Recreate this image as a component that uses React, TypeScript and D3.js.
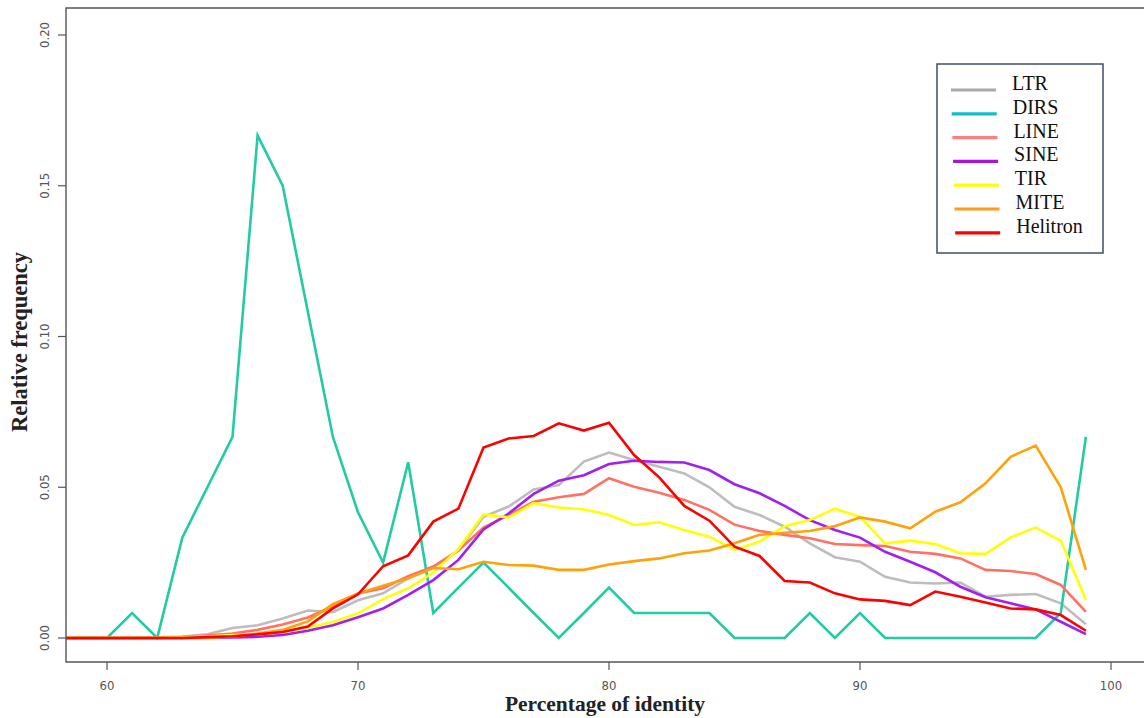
import React from "react";
import * as d3 from "d3";

const identity = d3.range(58, 100);

const LTR = [0, 0, 0, 0, 0.0002, 0.0005, 0.0012, 0.0033, 0.0042, 0.0065, 0.0091, 0.0086, 0.0125, 0.0148, 0.0198, 0.0235, 0.029, 0.0402, 0.0436, 0.0493, 0.0507, 0.0585, 0.0615, 0.059, 0.0568, 0.0546, 0.05, 0.0435, 0.0408, 0.0369, 0.0314, 0.0268, 0.0253, 0.0203, 0.0184, 0.0181, 0.0184, 0.0137, 0.0143, 0.0146, 0.0115, 0.0046];
const DIRS = [0, 0, 0, 0.0083, 0, 0.0333, 0.05, 0.0667, 0.1667, 0.15, 0.1083, 0.0667, 0.0417, 0.025, 0.0583, 0.0083, 0.0167, 0.025, 0.0167, 0.0083, 0, 0.0083, 0.0167, 0.0083, 0.0083, 0.0083, 0.0083, 0, 0, 0, 0.0083, 0, 0.0083, 0, 0, 0, 0, 0, 0, 0, 0.0083, 0.0667];
const LINE = [0, 0, 0, 0, 0, 0.0003, 0.0008, 0.0015, 0.0027, 0.0045, 0.0068, 0.0105, 0.0148, 0.0165, 0.0205, 0.0237, 0.029, 0.0366, 0.0408, 0.0452, 0.0467, 0.0478, 0.053, 0.0502, 0.0482, 0.0458, 0.0425, 0.0376, 0.0355, 0.0342, 0.0331, 0.0312, 0.0308, 0.0305, 0.0286, 0.0279, 0.0264, 0.0226, 0.0222, 0.0212, 0.0176, 0.0087];
const SINE = [0, 0, 0, 0, 0, 0, 0.0001, 0.0002, 0.0004, 0.001, 0.0024, 0.0042, 0.0069, 0.0098, 0.0143, 0.0192, 0.0259, 0.036, 0.0413, 0.0478, 0.0522, 0.054, 0.0577, 0.0588, 0.0584, 0.0582, 0.0557, 0.051, 0.048, 0.0438, 0.0391, 0.0358, 0.0333, 0.0286, 0.0253, 0.0218, 0.017, 0.0135, 0.0115, 0.0095, 0.0054, 0.0013];
const TIR = [0.0001, 0.0001, 0.0001, 0.0001, 0.0001, 0.0002, 0.0005, 0.001, 0.0012, 0.002, 0.0035, 0.0053, 0.0082, 0.0129, 0.0165, 0.0217, 0.0295, 0.041, 0.04, 0.0447, 0.0433, 0.0427, 0.0408, 0.0375, 0.0384, 0.0358, 0.0336, 0.0292, 0.032, 0.0371, 0.0391, 0.0429, 0.0402, 0.0314, 0.0323, 0.0312, 0.0281, 0.0279, 0.0334, 0.0366, 0.0323, 0.0126];
const MITE = [0, 0, 0, 0, 0, 0, 0, 0.0005, 0.0015, 0.0027, 0.0055, 0.0112, 0.0148, 0.0173, 0.0198, 0.0232, 0.0228, 0.0253, 0.0242, 0.024, 0.0226, 0.0226, 0.0244, 0.0255, 0.0264, 0.0281, 0.029, 0.0314, 0.0342, 0.0349, 0.0355, 0.0371, 0.04, 0.0386, 0.0364, 0.0419, 0.045, 0.0513, 0.0601, 0.0638, 0.05, 0.0226];
const Helitron = [0, 0, 0, 0, 0, 0, 0.0003, 0.0006, 0.0012, 0.002, 0.0038, 0.0098, 0.0145, 0.0238, 0.0274, 0.0386, 0.0429, 0.0632, 0.0662, 0.067, 0.0712, 0.0688, 0.0714, 0.0607, 0.0533, 0.0438, 0.0389, 0.0303, 0.0272, 0.0189, 0.0184, 0.0148, 0.0128, 0.0123, 0.0109, 0.0154, 0.0137, 0.0118, 0.0098, 0.0095, 0.0076, 0.0024];

const seriesNames = ["LTR", "DIRS", "LINE", "SINE", "TIR", "MITE", "Helitron"];
const seriesValues = [LTR, DIRS, LINE, SINE, TIR, MITE, Helitron];
const lineColors = ["#bdbdbd", "#22cba2", "#ff7263", "#a020f0", "#ffff00", "#ffa20a", "#ff0000"];
const legendColors = ["#aaaaaa", "#12bccc", "#ff7f7f", "#a814d8", "#ffff00", "#ff9a1a", "#ff0000"];

const xTicks = [60, 70, 80, 90, 100];
const yTicks = [0, 0.05, 0.1, 0.15, 0.2];

export default function App() {
  const W = 1144, H = 718;
  const left = 66, top = 8, bottom = 662, right = 1144;
  const x = d3.scaleLinear().domain([60, 100]).range([107, 1111]);
  const y = d3.scaleLinear().domain([0, 0.2]).range([638, 35]);
  const line = d3
    .line<number>()
    .x((_, i) => x(identity[i]))
    .y((d) => y(d));

  const serif = "'Liberation Serif', 'DejaVu Serif', serif";
  const narrow = "'Liberation Sans Narrow', 'DejaVu Sans Condensed', 'Liberation Sans', sans-serif";

  return (
    <svg width={W} height={H} style={{ position: "absolute", left: 0, top: 0, background: "#fff" }}>
      <defs>
        <clipPath id="plotClip">
          <rect x={left} y={top} width={right - left} height={bottom - top} />
        </clipPath>
      </defs>
      <g clipPath="url(#plotClip)">
        {seriesValues.map((vals, k) => (
          <path key={seriesNames[k]} d={line(vals) || ""} fill="none" stroke={lineColors[k]} strokeWidth={2.6} strokeLinejoin="miter" />
        ))}
      </g>
      <path d={`M${right},${top}H${left}V${bottom}H${right}`} fill="none" stroke="#555" strokeWidth={1.4} />
      {xTicks.map((t) => (
        <g key={t}>
          <line x1={x(t)} x2={x(t)} y1={bottom} y2={bottom + 8} stroke="#555" strokeWidth={1.2} />
          <text x={x(t)} y={690} textAnchor="middle" fontFamily={narrow} fontSize={13} fill="#555">{t}</text>
        </g>
      ))}
      {yTicks.map((t) => (
        <g key={t}>
          <line x1={left - 8} x2={left} y1={y(t)} y2={y(t)} stroke="#555" strokeWidth={1.2} />
          <text transform={`translate(49,${y(t)}) rotate(-90)`} textAnchor="middle" fontFamily={narrow} fontSize={13} fill="#555">{t.toFixed(2)}</text>
        </g>
      ))}
      <text x={605} y={711} textAnchor="middle" fontFamily={serif} fontWeight="bold" fontSize={21.5} fill="#222">Percentage of identity</text>
      <text transform="translate(27,342) rotate(-90)" textAnchor="middle" fontFamily={serif} fontWeight="bold" fontSize={22.5} fill="#222">Relative frequency</text>
      <rect x={937} y={64} width={166} height={189} fill="#fff" stroke="#3d4d6b" strokeWidth={1.5} />
      {seriesNames.map((name, i) => {
        const ly = 90 + i * 23.8;
        return (
          <g key={name}>
            <line x1={951 + i * 0.7} x2={996 + i * 0.7} y1={ly} y2={ly} stroke={legendColors[i]} strokeWidth={3.2} />
            <text x={1012 + i * 0.7} y={ly} fontFamily={serif} fontSize={20} fill="#111">{name}</text>
          </g>
        );
      })}
    </svg>
  );
}
